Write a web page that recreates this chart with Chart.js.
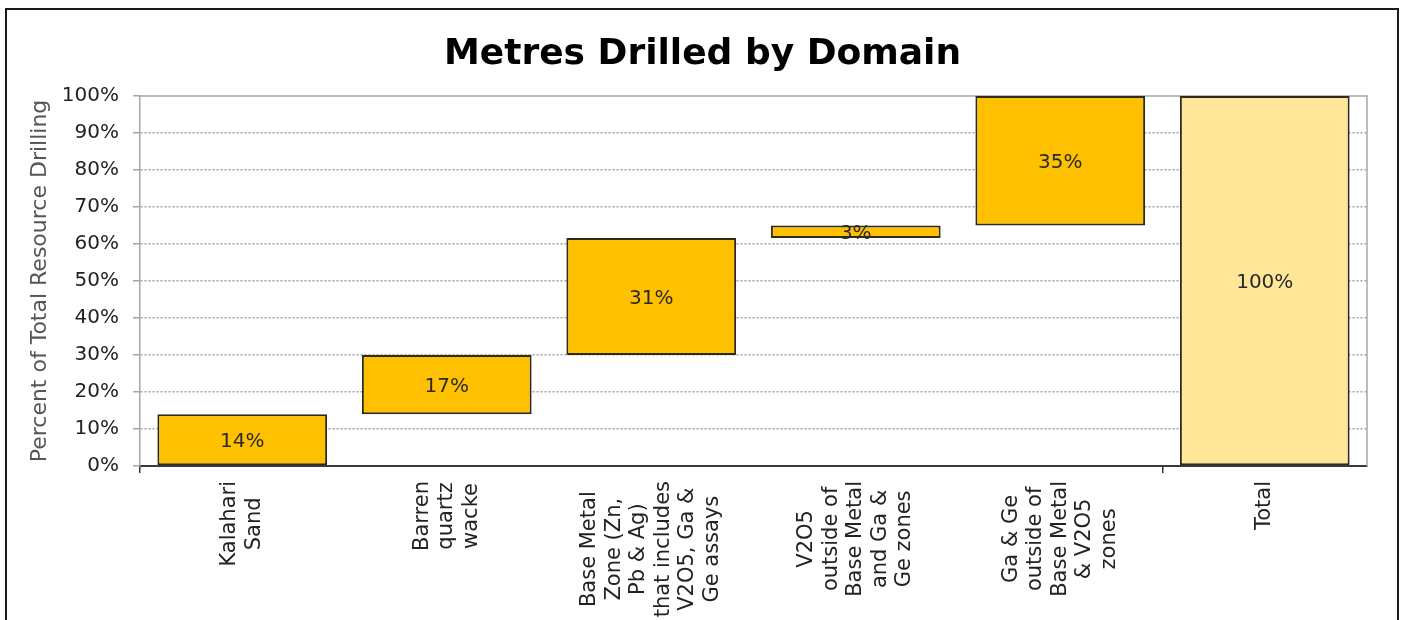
<!DOCTYPE html>
<html><head><meta charset="utf-8">
<script src="https://cdn.jsdelivr.net/npm/chart.js@4.4.0/dist/chart.umd.min.js"></script>
<style>
html,body{margin:0;padding:0;background:#fff;}
#wrap{position:relative;width:1405px;height:620px;overflow:hidden;background:#fff;}
#frame{position:absolute;left:5px;top:8px;width:1394px;height:700px;border:2px solid #1a1a1a;box-sizing:border-box;pointer-events:none;}
canvas{position:absolute;left:0;top:0;}
</style></head><body>
<div id="wrap"><canvas id="c" width="1405" height="620"></canvas><div id="frame"></div></div>
<script>
// ---- data ----
const categories = [
  ["Kalahari","Sand"],
  ["Barren","quartz","wacke"],
  ["Base Metal","Zone (Zn,","Pb & Ag)","that includes","V2O5, Ga &","Ge assays"],
  ["V2O5","outside of","Base Metal","and Ga &","Ge zones"],
  ["Ga & Ge","outside of","Base Metal","& V2O5","zones"],
  ["Total"]
];
const barStart = [0, 14, 30, 61.6, 65, 0];
const barEnd   = [14, 30, 61.6, 65, 100, 100];
const valueLabels = ["14%","17%","31%","3%","35%","100%"];
const yTickValues = [0,10,20,30,40,50,60,70,80,90,100];
const titleText = "Metres Drilled by Domain";
const yAxisTitle = "Percent of Total Resource Drilling";

const FONT = "'DejaVu Sans', 'Liberation Sans', Arial, sans-serif";

const floating = barStart.map((s, i) => [s, barEnd[i]]);
const fills = categories.map((c, i) => i === categories.length - 1 ? '#FFE699' : '#FFC000');

const titlePlugin = {
  id: 'pageTitle',
  afterDraw(chart) {
    const {ctx, width} = chart;
    ctx.save();
    ctx.font = "bold 36px " + FONT;
    ctx.fillStyle = '#000';
    ctx.textAlign = 'center';
    ctx.textBaseline = 'middle';
    ctx.fillText(titleText, width / 2, 55);
    ctx.restore();
  }
};

const plotFrame = {
  id: 'plotFrame',
  beforeDatasetsDraw(chart) {
    const {ctx, chartArea: a} = chart;
    ctx.save();
    ctx.strokeStyle = '#a6a6a6';
    ctx.lineWidth = 1.5;
    ctx.beginPath();
    ctx.moveTo(a.left, a.top); ctx.lineTo(a.right, a.top); ctx.lineTo(a.right, a.bottom);
    ctx.stroke();
    ctx.restore();
  }
};

const valueLabelPlugin = {
  id: 'valueLabels',
  afterDatasetsDraw(chart) {
    const {ctx} = chart;
    const meta = chart.getDatasetMeta(0);
    ctx.save();
    ctx.font = "20px " + FONT;
    ctx.fillStyle = '#2a2a2a';
    ctx.textAlign = 'center';
    ctx.textBaseline = 'middle';
    meta.data.forEach((el, i) => {
      const y = (el.y + el.base) / 2 + 2;
      ctx.fillText(valueLabels[i], el.x, y);
    });
    ctx.restore();
  }
};

const xLabelPlugin = {
  id: 'xLabels',
  afterDraw(chart) {
    const {ctx} = chart;
    const xs = chart.scales.x;
    const axisY = chart.chartArea.bottom;
    const lineH = 24.5;
    ctx.save();
    ctx.font = "21px " + FONT;
    ctx.fillStyle = '#222';
    ctx.textAlign = 'center';
    ctx.textBaseline = 'middle';
    categories.forEach((lines, i) => {
      const cx = xs.getPixelForValue(i);
      const maxW = Math.max(...lines.map(l => ctx.measureText(l).width));
      ctx.save();
      ctx.translate(cx, axisY + 15 + maxW / 2);
      ctx.rotate(-Math.PI / 2);
      lines.forEach((l, j) => {
        ctx.fillText(l, 0, (j - (lines.length - 1) / 2) * lineH);
      });
      ctx.restore();
    });
    ctx.restore();
  }
};

new Chart(document.getElementById('c'), {
  type: 'bar',
  data: {
    labels: categories.map(c => c.join(' ')),
    datasets: [{
      data: floating,
      backgroundColor: fills,
      borderColor: '#2e2a1c',
      borderWidth: 2,
      borderSkipped: false,
      barPercentage: 0.83,
      categoryPercentage: 1.0
    }]
  },
  options: {
    responsive: false,
    animation: false,
    devicePixelRatio: 1,
    layout: { padding: { top: 96, right: 38, bottom: 0, left: 0 } },
    plugins: {
      legend: { display: false },
      tooltip: { enabled: false },
      title: { display: false }
    },
    scales: {
      x: {
        ticks: { display: false },
        grid: {
          offset: true,
          drawOnChartArea: false,
          drawTicks: true,
          tickLength: 7,
          lineWidth: 1.5,
          color: (ctx) => (ctx.index === 0 || ctx.index === 5) ? '#333' : 'rgba(0,0,0,0)'
        },
        border: { display: true, color: '#3a3a3a', width: 2 },
        afterFit(s) { s.height = 154; }
      },
      y: {
        min: 0, max: 100,
        afterBuildTicks(s) { s.ticks = yTickValues.map(v => ({ value: v })); },
        ticks: {
          callback: (v) => v + '%',
          color: '#222',
          font: { family: FONT, size: 20 },
          padding: 14
        },
        grid: {
          color: (ctx) => ctx.tick && ctx.tick.value === 100 ? 'rgba(0,0,0,0)' : '#a3a3a3',
          lineWidth: 1.5,
          tickLength: 7,
          tickColor: '#a6a6a6',
          tickBorderDash: [0, 0]
        },
        border: { display: true, color: '#a6a6a6', width: 1.5, dash: [2, 2] },
        title: {
          display: true,
          text: yAxisTitle,
          color: '#555',
          font: { family: FONT, size: 22 },
          padding: { top: 27, bottom: 0 }
        },
        afterFit(s) { s.width = 140; }
      }
    }
  },
  plugins: [plotFrame, valueLabelPlugin, xLabelPlugin, titlePlugin]
});
</script>
</body></html>
